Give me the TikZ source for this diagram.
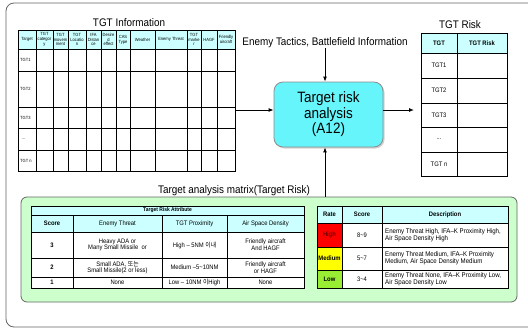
\documentclass[tikz,border=0pt]{standalone}
\usepackage{fontspec}
\setmainfont{Liberation Sans}[FakeStretch=0.9]
\newfontfamily\krfont{Noto Sans CJK KR}[FakeStretch=0.9]
\usetikzlibrary{arrows.meta,shadows}

\definecolor{hdcyan}{RGB}{204,255,255}
\definecolor{boxcyan}{RGB}{102,245,250}
\definecolor{matgreen}{RGB}{204,255,204}
\definecolor{ratered}{RGB}{255,0,0}
\definecolor{rateyellow}{RGB}{255,255,0}
\definecolor{rategreen}{RGB}{153,238,51}
\definecolor{darkred}{RGB}{110,0,0}
\definecolor{framegray}{RGB}{100,100,100}

\tikzset{
  infotxt/.style={font=\fontsize{4.5}{4.8}\selectfont,align=center,inner sep=0pt},
  celltxt/.style={font=\fontsize{6.5}{6.8}\selectfont,align=center,inner sep=0pt},
  cellbold/.style={font=\fontsize{6.5}{6.8}\selectfont\bfseries,align=center,inner sep=0pt},
  desctxt/.style={font=\fontsize{6.8}{6.6}\selectfont,align=left,anchor=west,inner sep=0pt},
  ttltxt/.style={font=\fontsize{11}{12}\selectfont,inner sep=0pt},
  tabline/.style={line width=0.6pt},
  arrline/.style={-{Latex[length=5pt,width=4pt]},line width=0.9pt},
  riskbox/.style={draw=black!45,line width=0.8pt,fill=boxcyan,rounded corners=9pt,
    minimum width=109pt,minimum height=65pt,align=center,inner sep=0pt,
    font=\fontsize{15}{15.5}\selectfont,
    drop shadow={shadow xshift=1.5pt,shadow yshift=-1.5pt,fill=black!35}},
  matbox/.style={draw=black!60,line width=0.8pt,fill=matgreen,rounded corners=6pt,
    minimum width=496pt,minimum height=105pt,inner sep=0pt}
}

\begin{document}
\begin{tikzpicture}[x=1pt,y=-1pt]
\useasboundingbox (0,0) rectangle (528,330);
\draw[framegray,line width=0.8pt,rounded corners=8pt] (532,3) -- (6,3) -- (6,327) -- (532,327);

% TGT information
\node[ttltxt] (infottl) at (129,23) {TGT Information};
\fill[hdcyan] (18,30) rectangle (235,49);
\foreach \y in {49,71,107,128,150} \draw[tabline] (18,\y) -- (235,\y);
\foreach \x in {36,53,68,86,101,116,130,155,187,201,217} \draw[tabline] (\x,30) -- (\x,171);
\draw[tabline] (18,30) rectangle (235,171);

\node[infotxt] (hTarget) at (27,39.5) {Target};
\node[infotxt] (hCat) at (44.5,39.5) {TGT\\categor\\y};
\node[infotxt] (hMove) at (60.5,39.5) {TGT\\movem\\ment};
\node[infotxt] (hLoc) at (77,39.5) {TGT\\Locatio\\n};
\node[infotxt] (hIfa) at (93.5,39.5) {IFA\\Distan\\ce};
\node[infotxt] (hEff) at (108.5,39.5) {Desire\\d\\effect};
\node[infotxt] (hCas) at (123,39.5) {CAS\\Type};
\node[infotxt] (hWea) at (142.5,39.5) {Weather};
\node[infotxt] (hThr) at (171,39.5) {Enemy Threat};
\node[infotxt] (hMark) at (194,39.5) {TGT\\marke\\r};
\node[infotxt] (hHagf) at (209,39.5) {HAGF};
\node[infotxt] (hFrd) at (226,39.5) {Friendly\\aircraft};

\node[infotxt,anchor=west] (iT1) at (20,60) {TGT1};
\node[infotxt,anchor=west] (iT2) at (20,89) {TGT2};
\node[infotxt,anchor=west] (iT3) at (20,117.5) {TGT3};
\node[infotxt,anchor=west] (iT4) at (22,139) {...};
\node[infotxt,anchor=west] (iTn) at (20,160.5) {TGT n};

% TGT risk
\node[ttltxt] (riskttl) at (460,25) {TGT Risk};
\fill[hdcyan] (421,33) rectangle (507,53);
\foreach \y in {53,78,103,127,152} \draw[tabline] (421,\y) -- (507,\y);
\draw[tabline] (457,33) -- (457,176);
\draw[tabline] (421,33) rectangle (507,176);

\node[cellbold] (rTgt) at (439,43) {TGT};
\node[cellbold] (rRisk) at (482,43) {TGT Risk};
\node[celltxt] (rT1) at (439,65.5) {TGT1};
\node[celltxt] (rT2) at (439,90.5) {TGT2};
\node[celltxt] (rT3) at (439,115) {TGT3};
\node[celltxt] (rT4) at (439,139.5) {...};
\node[celltxt] (rTn) at (439,164) {TGT n};

% analysis
\node[ttltxt] (tactics) at (325,43) {Enemy Tactics, Battlefield Information};
\node[riskbox] (risk) at (328.5,114.5) {Target risk\\analysis\\(A12)};
\coordinate (topin) at ([xshift=-3.5pt]risk.north);
\coordinate (botin) at ([xshift=-3.5pt]risk.south);
\coordinate (infoE) at (235,110);
\coordinate (riskW) at (414,110);

\draw[arrline] (topin |- tactics.south) -- (topin);
\draw[arrline] (infoE) -- (infoE -| risk.west);
\draw[arrline] (riskW -| risk.east) -- (riskW);

% matrix
\node[ttltxt] (matttl) at (234,191) {Target analysis matrix(Target Risk)};
\node[matbox] (matrix) at (269,249.5) {};
\draw[arrline] (botin |- matrix.north) -- (botin);

\fill[white] (31,206) rectangle (304,288);
\fill[hdcyan] (31,206) rectangle (304,232);
\foreach \y in {215,232,258,277} \draw[tabline] (31,\y) -- (304,\y);
\foreach \x in {73,162,227} \draw[tabline] (\x,215) -- (\x,288);
\draw[tabline] (31,206) rectangle (304,288);

\node[cellbold,font=\fontsize{5.5}{6}\selectfont\bfseries] (attr) at (167.5,210.5) {Target Risk Attribute};
\node[cellbold] (aScore) at (52,223.5) {Score};
\node[celltxt] (aThr) at (117.5,223.5) {Enemy Threat};
\node[celltxt] (aProx) at (194.5,223.5) {TGT Proximity};
\node[celltxt] (aAir) at (265.5,223.5) {Air Space Density};

\node[cellbold] (s3) at (52,245) {3};
\node[celltxt] (thr3) at (117.5,245) {Heavy ADA or\\Many Small Missile \ or};
\node[celltxt] (prox3) at (194.5,245) {High -- 5NM {\krfont 이내}};
\node[celltxt] (air3) at (265.5,245) {Friendly aircraft\\And HAGF};

\node[cellbold] (s2) at (52,267.5) {2};
\node[celltxt] (thr2) at (117.5,267.5) {Small ADA, {\krfont 또는}\\Small Missile(2 or less)};
\node[celltxt] (prox2) at (194.5,267.5) {Medium --5\textasciitilde10NM};
\node[celltxt] (air2) at (265.5,267.5) {Friendly aircraft\\or HAGF};

\node[cellbold] (s1) at (52,282.5) {1};
\node[celltxt] (thr1) at (117.5,282.5) {None};
\node[celltxt] (prox1) at (194.5,282.5) {Low -- 10NM {\krfont 이}High};
\node[celltxt] (air1) at (265.5,282.5) {None};

\fill[white] (317,206) rectangle (508,288);
\fill[hdcyan] (317,206) rectangle (508,223);
\fill[ratered] (317,223) rectangle (342,247);
\fill[rateyellow] (317,247) rectangle (342,270);
\fill[rategreen] (317,270) rectangle (342,288);
\foreach \y in {223,247,270} \draw[tabline] (317,\y) -- (508,\y);
\foreach \x in {342,382} \draw[tabline] (\x,206) -- (\x,288);
\draw[tabline] (317,206) rectangle (508,288);

\node[cellbold] (rate) at (329.5,214.5) {Rate};
\node[cellbold] (score) at (362,214.5) {Score};
\node[cellbold] (desc) at (445,214.5) {Description};

\node[cellbold,text=darkred] (high) at (329.5,235) {High};
\node[celltxt] (sHigh) at (362,235) {8\textasciitilde9};
\node[desctxt] (dHigh) at (385,235) {Enemy Threat High, IFA--K Proximity High,\\Air Space Density High};

\node[cellbold] (medium) at (329.5,258.5) {Medium};
\node[celltxt] (sMed) at (362,258.5) {5\textasciitilde7};
\node[desctxt] (dMed) at (385,258.5) {Enemy Threat Medium, IFA--K Proximity\\Medium, Air Space Density Medium};

\node[cellbold] (low) at (329.5,279) {Low};
\node[celltxt] (sLow) at (362,279) {3\textasciitilde4};
\node[desctxt] (dLow) at (385,279) {Enemy Threat None, IFA--K Proximity Low,\\Air Space Density Low};

\end{tikzpicture}
\end{document}
